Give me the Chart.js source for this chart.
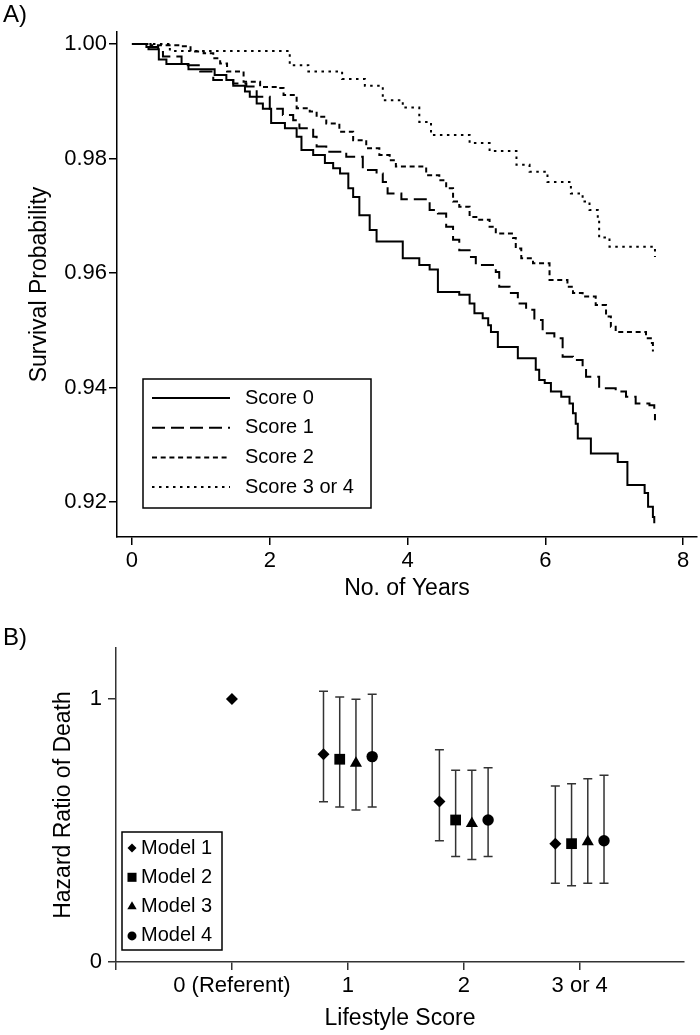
<!DOCTYPE html>
<html>
<head>
<meta charset="utf-8">
<script src="https://cdn.jsdelivr.net/npm/chart.js@4.4.0/dist/chart.umd.min.js"></script>
<style>
  body { margin: 0; background: #fff; width: 700px; height: 1035px; position: relative; overflow: hidden;
         font-family: "Liberation Sans", Arial, sans-serif; }
  canvas { position: absolute; left: 0; }
  #chartA { top: 0; }
  #chartB { top: 600px; }
  .panel { position: absolute; left: 3px; font-size: 24px; line-height: 24px; color: #000; }
</style>
</head>
<body>
<canvas id="chartA" width="700" height="604"></canvas>
<canvas id="chartB" width="700" height="435"></canvas>
<div class="panel" style="top:2px">A)</div>
<div class="panel" style="top:625px">B)</div>
<script>
var FONT = '"Liberation Sans", Arial, sans-serif';

// ---- panel A: survival by lifestyle score (step curves)
var scoreLabels = ['Score 0', 'Score 1', 'Score 2', 'Score 3 or 4'];

var score0Years = [0, 0.21, 0.24, 0.39, 0.50, 0.82, 1.20, 1.37, 1.47, 1.64, 1.71, 1.81, 1.90, 2.02, 2.22, 2.39, 2.46, 2.63, 2.80, 2.92, 3.02, 3.14, 3.21, 3.30, 3.45, 3.55, 3.93, 4.17, 4.32, 4.44, 4.75, 4.90, 4.97, 5.09, 5.17, 5.21, 5.31, 5.60, 5.86, 5.91, 5.99, 6.08, 6.23, 6.35, 6.40, 6.44, 6.47, 6.66, 7.05, 7.19, 7.44, 7.49, 7.56, 7.58];
var score0Surv = [1.0, 0.9995, 0.9991, 0.9973, 0.9965, 0.9956, 0.9946, 0.9937, 0.9927, 0.9917, 0.9908, 0.9896, 0.9887, 0.9862, 0.9853, 0.9838, 0.9815, 0.9806, 0.9792, 0.9783, 0.9774, 0.9748, 0.9733, 0.9701, 0.9675, 0.9655, 0.9626, 0.9614, 0.9606, 0.9567, 0.9562, 0.9547, 0.9530, 0.9521, 0.9509, 0.9497, 0.9471, 0.9451, 0.9431, 0.9413, 0.9408, 0.9393, 0.9384, 0.9372, 0.9355, 0.9337, 0.9311, 0.9285, 0.9270, 0.9230, 0.9216, 0.9192, 0.9174, 0.9163];

var score1Years = [0, 0.24, 0.38, 0.45, 0.72, 0.99, 1.18, 1.47, 1.66, 1.81, 2.00, 2.19, 2.34, 2.43, 2.63, 2.68, 2.82, 3.11, 3.35, 3.55, 3.64, 3.71, 3.91, 4.32, 4.44, 4.56, 4.66, 4.75, 4.90, 4.99, 5.28, 5.33, 5.48, 5.60, 5.72, 5.84, 5.96, 6.13, 6.25, 6.40, 6.54, 6.59, 6.78, 7.02, 7.17, 7.31, 7.51, 7.58, 7.59];
var score1Surv = [1.0, 0.9995, 0.9986, 0.9978, 0.9963, 0.9952, 0.9937, 0.9931, 0.9926, 0.9908, 0.9887, 0.9876, 0.9867, 0.9853, 0.9838, 0.9821, 0.9812, 0.9803, 0.9780, 0.9774, 0.9759, 0.9739, 0.9729, 0.9710, 0.9704, 0.9681, 0.9658, 0.9640, 0.9628, 0.9614, 0.9602, 0.9576, 0.9565, 0.9547, 0.9536, 0.9518, 0.9495, 0.9486, 0.9454, 0.9448, 0.9434, 0.9419, 0.9399, 0.9393, 0.9384, 0.9372, 0.9369, 0.9355, 0.9343];

var score2Years = [0, 0.27, 0.70, 0.85, 1.04, 1.18, 1.28, 1.38, 1.62, 1.86, 2.13, 2.20, 2.39, 2.58, 2.68, 2.82, 3.01, 3.21, 3.40, 3.59, 3.74, 3.83, 4.27, 4.46, 4.56, 4.66, 4.75, 4.90, 5.04, 5.19, 5.28, 5.53, 5.57, 5.65, 5.82, 6.06, 6.32, 6.40, 6.54, 6.73, 6.88, 6.95, 7.02, 7.46, 7.53, 7.56];
var score2Surv = [1.0, 0.9998, 0.9996, 0.9987, 0.9984, 0.9975, 0.9966, 0.9952, 0.9934, 0.9925, 0.9923, 0.9911, 0.9888, 0.9882, 0.9873, 0.9861, 0.9847, 0.9832, 0.9818, 0.9806, 0.9797, 0.9786, 0.9771, 0.9762, 0.9748, 0.9725, 0.9716, 0.9698, 0.9693, 0.9681, 0.9669, 0.9661, 0.9643, 0.9626, 0.9617, 0.9588, 0.9576, 0.9565, 0.9559, 0.9544, 0.9524, 0.9506, 0.9497, 0.9486, 0.9478, 0.9463];

var score3Years = [0, 0.55, 2.29, 2.56, 3.05, 3.38, 3.64, 3.93, 4.17, 4.34, 4.90, 5.19, 5.58, 5.77, 6.03, 6.37, 6.54, 6.64, 6.76, 6.78, 6.93, 7.59];
var score3Surv = [1.0, 0.9988, 0.9963, 0.9952, 0.9939, 0.9927, 0.9902, 0.9889, 0.9864, 0.9841, 0.9827, 0.9813, 0.9789, 0.9777, 0.9759, 0.9739, 0.9725, 0.9710, 0.9693, 0.9662, 0.9646, 0.9628];

var yearTicks = [0, 2, 4, 6, 8];
var survivalTicks = [0.92, 0.94, 0.96, 0.98, 1.00];

// ---- panel B: hazard ratios by model
var scoreCategories = ['0 (Referent)', '1', '2', '3 or 4'];
var modelLabels = ['Model 1', 'Model 2', 'Model 3', 'Model 4'];

var model1HR = [1.00, 0.790, 0.610, 0.450];
var model1Low = [null, 0.609, 0.461, 0.299];
var model1High = [null, 1.030, 0.807, 0.669];

var model2HR = [null, 0.771, 0.540, 0.450];
var model2Low = [null, 0.589, 0.401, 0.290];
var model2High = [null, 1.008, 0.729, 0.678];

var model3HR = [null, 0.756, 0.527, 0.457];
var model3Low = [null, 0.578, 0.390, 0.299];
var model3High = [null, 0.999, 0.729, 0.697];

var model4HR = [null, 0.781, 0.540, 0.461];
var model4Low = [null, 0.589, 0.401, 0.299];
var model4High = [null, 1.018, 0.739, 0.710];

var hrTicks = [0, 1];
var categoryTicks = [0, 1, 2, 3, 4];

// side-by-side spacing of the four models inside a category
var modelOffsets = [-0.21, -0.07, 0.07, 0.21];

function stepPoints(xs, ys) {
  return xs.map(function (x, i) { return { x: x, y: ys[i] }; });
}

function setTicks(values) {
  return function (axis) {
    axis.ticks = values.map(function (v) { return { value: v }; });
  };
}

function tickFont() { return { family: FONT, size: 22 }; }
function titleFont() { return { family: FONT, size: 23 }; }

// legend box drawn inside the plot area of panel A
var survivalLegend = {
  id: 'survivalLegend',
  afterDraw: function (chart) {
    var ctx = chart.ctx, a = chart.chartArea;
    var x0 = a.left + 26, y0 = a.top + 347;
    ctx.save();
    ctx.fillStyle = '#fff';
    ctx.fillRect(x0, y0, 228, 129);
    ctx.lineWidth = 1.5;
    ctx.strokeStyle = '#000';
    ctx.setLineDash([]);
    ctx.strokeRect(x0, y0, 228, 129);
    ctx.font = '20px ' + FONT;
    ctx.fillStyle = '#000';
    ctx.textBaseline = 'middle';
    chart.data.datasets.forEach(function (ds, i) {
      var y = y0 + 19 + i * 29.7;
      ctx.setLineDash(ds.borderDash || []);
      ctx.lineWidth = ds.borderWidth;
      ctx.beginPath();
      ctx.moveTo(x0 + 9, y);
      ctx.lineTo(x0 + 87, y);
      ctx.stroke();
      ctx.setLineDash([]);
      ctx.fillText(ds.label, x0 + 102, y);
    });
    ctx.restore();
  }
};

new Chart(document.getElementById('chartA'), {
  type: 'line',
  data: {
    datasets: [
      { label: scoreLabels[0], data: stepPoints(score0Years, score0Surv), borderDash: [] },
      { label: scoreLabels[1], data: stepPoints(score1Years, score1Surv), borderDash: [13, 6] },
      { label: scoreLabels[2], data: stepPoints(score2Years, score2Surv), borderDash: [5, 3.7] },
      { label: scoreLabels[3], data: stepPoints(score3Years, score3Surv), borderDash: [2.5, 4.5] }
    ].map(function (ds) {
      ds.stepped = 'before';
      ds.borderColor = '#000';
      ds.borderWidth = 2;
      ds.pointRadius = 0;
      ds.fill = false;
      return ds;
    })
  },
  options: {
    responsive: false,
    animation: false,
    events: [],
    layout: { padding: { left: 0, top: 32, right: 3, bottom: 0 } },
    plugins: { legend: { display: false }, tooltip: { enabled: false } },
    scales: {
      x: {
        type: 'linear', min: -0.217, max: 8.2,
        afterBuildTicks: setTicks(yearTicks),
        afterFit: function (axis) { axis.height = 67; },
        ticks: { font: tickFont(), color: '#000', padding: 3, maxRotation: 0, autoSkip: false },
        grid: { drawOnChartArea: false, drawTicks: true, tickLength: 8, color: '#000', lineWidth: 1.5 },
        border: { color: '#000', width: 1.5 },
        title: { display: true, text: 'No. of Years', font: titleFont(), color: '#000', padding: { top: 0, bottom: 2 } }
      },
      y: {
        type: 'linear', min: 0.9139, max: 1.0021,
        afterBuildTicks: setTicks(survivalTicks),
        afterFit: function (axis) { axis.width = 117; },
        ticks: { font: tickFont(), color: '#000', padding: 2, autoSkip: false,
                 callback: function (v) { return v.toFixed(2); } },
        grid: { drawOnChartArea: false, drawTicks: true, tickLength: 8, color: '#000', lineWidth: 1.5 },
        border: { color: '#000', width: 1.5 },
        title: { display: true, text: 'Survival Probability', font: titleFont(), color: '#000', padding: { top: 26, bottom: 0 } }
      }
    }
  },
  plugins: [survivalLegend]
});

// ---- panel B helpers
function modelPoints(hr, low, high, m) {
  var pts = [];
  for (var k = 0; k < hr.length; k++) {
    if (hr[k] == null) continue;
    pts.push({ x: k + 1 + (k === 0 ? 0 : modelOffsets[m]), y: hr[k], lo: low[k], hi: high[k] });
  }
  return pts;
}

function drawMarker(ctx, style, x, y, r) {
  ctx.beginPath();
  if (style === 'rectRot') {
    ctx.moveTo(x - r, y); ctx.lineTo(x, y - r); ctx.lineTo(x + r, y); ctx.lineTo(x, y + r);
  } else if (style === 'rect') {
    var s = r * Math.SQRT1_2;
    ctx.rect(x - s, y - s, 2 * s, 2 * s);
  } else if (style === 'triangle') {
    ctx.moveTo(x, y - r);
    ctx.lineTo(x + r * Math.sin(Math.PI * 2 / 3), y - r * Math.cos(Math.PI * 2 / 3));
    ctx.lineTo(x + r * Math.sin(Math.PI * 4 / 3), y - r * Math.cos(Math.PI * 4 / 3));
  } else {
    ctx.arc(x, y, r, 0, Math.PI * 2);
  }
  ctx.closePath();
  ctx.fill();
}

var errorBars = {
  id: 'errorBars',
  beforeDatasetsDraw: function (chart) {
    var ctx = chart.ctx, yScale = chart.scales.y;
    ctx.save();
    ctx.strokeStyle = '#333';
    ctx.lineWidth = 1.5;
    chart.data.datasets.forEach(function (ds, i) {
      var meta = chart.getDatasetMeta(i);
      ds.data.forEach(function (pt, j) {
        if (pt.lo == null) return;
        var x = meta.data[j].x;
        var yl = yScale.getPixelForValue(pt.lo), yh = yScale.getPixelForValue(pt.hi);
        ctx.beginPath();
        ctx.moveTo(x, yl); ctx.lineTo(x, yh);
        ctx.moveTo(x - 4.5, yl); ctx.lineTo(x + 4.5, yl);
        ctx.moveTo(x - 4.5, yh); ctx.lineTo(x + 4.5, yh);
        ctx.stroke();
      });
    });
    ctx.restore();
  }
};

var modelLegend = {
  id: 'modelLegend',
  afterDraw: function (chart) {
    var ctx = chart.ctx, a = chart.chartArea;
    var x0 = a.left + 6, y0 = a.top + 184;
    var legendSizes = [4.5, 6.4, 5.4, 4.5];
    ctx.save();
    ctx.fillStyle = '#fff';
    ctx.fillRect(x0, y0, 100, 118);
    ctx.lineWidth = 1.5;
    ctx.strokeStyle = '#000';
    ctx.strokeRect(x0, y0, 100, 118);
    ctx.font = '20px ' + FONT;
    ctx.textBaseline = 'middle';
    chart.data.datasets.forEach(function (ds, i) {
      var y = y0 + 16 + i * 29.3;
      ctx.fillStyle = '#000';
      drawMarker(ctx, ds.pointStyle, x0 + 10, y, legendSizes[i]);
      ctx.fillText(ds.label, x0 + 19, y);
    });
    ctx.restore();
  }
};

new Chart(document.getElementById('chartB'), {
  type: 'scatter',
  data: {
    datasets: [
      { label: modelLabels[0], data: modelPoints(model1HR, model1Low, model1High, 0), pointStyle: 'rectRot', pointRadius: 6 },
      { label: modelLabels[1], data: modelPoints(model2HR, model2Low, model2High, 1), pointStyle: 'rect', pointRadius: 7.6 },
      { label: modelLabels[2], data: modelPoints(model3HR, model3Low, model3High, 2), pointStyle: 'triangle', pointRadius: 7 },
      { label: modelLabels[3], data: modelPoints(model4HR, model4Low, model4High, 3), pointStyle: 'circle', pointRadius: 5.7 }
    ].map(function (ds) {
      ds.backgroundColor = '#000';
      ds.borderColor = '#000';
      ds.borderWidth = 0;
      return ds;
    })
  },
  options: {
    responsive: false,
    animation: false,
    events: [],
    layout: { padding: { left: 0, top: 48, right: 16, bottom: 0 } },
    plugins: { legend: { display: false }, tooltip: { enabled: false } },
    scales: {
      x: {
        type: 'linear', min: 0, max: 4.9,
        afterBuildTicks: setTicks(categoryTicks),
        afterFit: function (axis) { axis.height = 73; },
        ticks: { font: tickFont(), color: '#000', padding: 3, maxRotation: 0, autoSkip: false,
                 callback: function (v) { return v === 0 ? '' : scoreCategories[v - 1]; } },
        grid: { drawOnChartArea: false, drawTicks: true, tickLength: 8, color: '#333', lineWidth: 1.5 },
        border: { color: '#333', width: 1.5 },
        title: { display: true, text: 'Lifestyle Score', font: titleFont(), color: '#000', padding: { top: 0, bottom: 3 } }
      },
      y: {
        type: 'linear', min: 0, max: 1.194,
        afterBuildTicks: setTicks(hrTicks),
        afterFit: function (axis) { axis.width = 116; },
        ticks: { font: tickFont(), color: '#000', padding: 6, autoSkip: false },
        grid: { drawOnChartArea: false, drawTicks: true, tickLength: 8, color: '#333', lineWidth: 1.5 },
        border: { color: '#333', width: 1.5 },
        title: { display: true, text: 'Hazard Ratio of Death', font: titleFont(), color: '#000', padding: { top: 50, bottom: 0 } }
      }
    }
  },
  plugins: [errorBars, modelLegend]
});
</script>
</body>
</html>
